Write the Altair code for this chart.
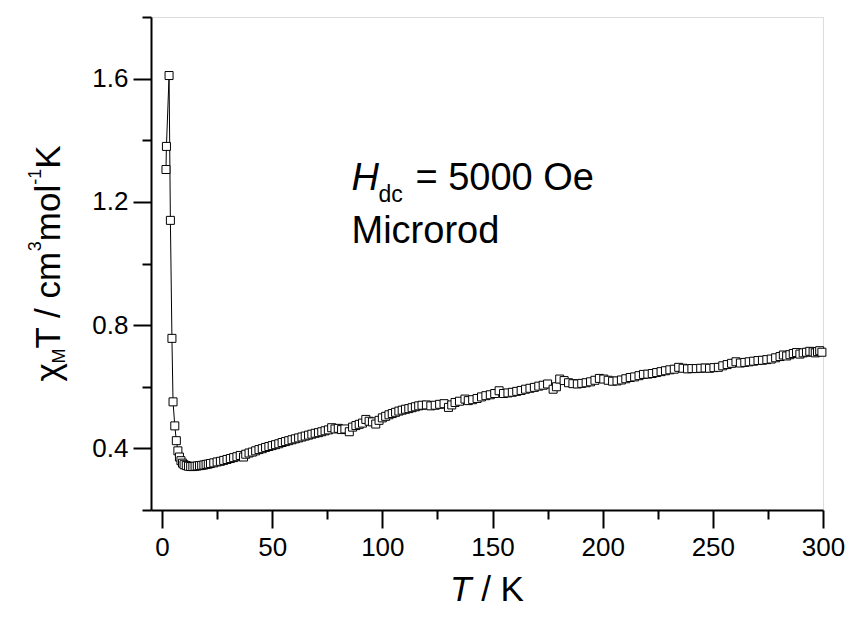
import altair as alt
import pandas as pd

# ---- data ----
T_K = [1.8, 2.0, 3.2, 3.8, 4.5, 5.0, 5.8, 6.5, 7.2, 7.9, 8.6, 9.3, 10.0, 11.0, 12.0, 13.0, 14.0, 15.0,
       16.0, 17.0, 18.0, 19.0, 20.0, 21.0, 22.0, 23.5, 25.0, 26.5, 28.0, 29.5, 31.0, 32.5, 34.0, 35.5,
       37.0, 38.0, 39.5, 41.0, 42.5, 44.0, 45.5, 47.0, 48.5, 50.0, 51.5, 53.0, 54.5, 56.0, 57.5, 59.0,
       60.5, 62.0, 63.5, 65.0, 66.5, 68.0, 69.5, 71.0, 72.5, 74.0, 75.5, 77.0, 78.5, 80.0, 81.5, 83.0,
       85.0, 86.5, 88.0, 89.5, 91.0, 92.5, 94.0, 95.5, 97.0, 98.5, 100.0, 101.5, 103.0, 104.5, 106.0,
       107.5, 109.0, 110.5, 112.0, 113.5, 115.0, 116.5, 118.0, 120.0, 122.0, 124.0, 126.0, 128.0, 130.0,
       131.5, 133.0, 135.0, 137.5, 139.0, 141.0, 143.0, 145.0, 147.0, 149.0, 151.0, 153.0, 155.0, 157.0,
       159.0, 161.0, 163.0, 165.0, 167.0, 169.0, 171.0, 173.0, 175.0, 177.5, 179.0, 180.5, 182.5, 184.5,
       186.5, 188.5, 190.5, 192.5, 194.5, 196.5, 198.5, 200.5, 202.5, 204.5, 206.5, 208.5, 210.5, 212.5,
       214.5, 216.5, 218.5, 220.5, 222.5, 224.5, 226.5, 228.5, 230.5, 232.5, 234.5, 236.5, 238.5, 240.5,
       242.5, 244.5, 246.5, 248.5, 250.5, 252.5, 254.5, 256.5, 258.5, 260.5, 262.5, 264.5, 266.5, 268.5,
       270.5, 272.5, 274.5, 276.5, 278.5, 280.5, 282.0, 283.5, 285.0, 286.5, 288.0, 289.5, 291.0, 292.5,
       294.0, 295.5, 296.5, 297.5, 298.5, 299.5]
CHI_T = [1.305, 1.38, 1.61, 1.14, 0.757, 0.551, 0.473, 0.425, 0.392, 0.372, 0.360, 0.352, 0.347, 0.344,
         0.342, 0.341, 0.341, 0.342, 0.343, 0.344, 0.345, 0.346, 0.348, 0.349, 0.351, 0.353, 0.356, 0.358,
         0.361, 0.364, 0.367, 0.370, 0.373, 0.377, 0.372, 0.381, 0.385, 0.388, 0.392, 0.396, 0.399, 0.403,
         0.406, 0.409, 0.412, 0.415, 0.419, 0.422, 0.425, 0.428, 0.431, 0.434, 0.437, 0.440, 0.443, 0.446,
         0.449, 0.451, 0.454, 0.457, 0.460, 0.467, 0.463, 0.465, 0.461, 0.463, 0.454, 0.469, 0.474, 0.478,
         0.482, 0.494, 0.488, 0.486, 0.479, 0.491, 0.499, 0.504, 0.509, 0.513, 0.517, 0.521, 0.524, 0.527,
         0.529, 0.532, 0.535, 0.538, 0.540, 0.541, 0.538, 0.540, 0.543, 0.545, 0.533, 0.541, 0.549, 0.553,
         0.560, 0.555, 0.558, 0.562, 0.567, 0.571, 0.574, 0.578, 0.587, 0.578, 0.580, 0.582, 0.585, 0.588,
         0.592, 0.595, 0.598, 0.602, 0.605, 0.609, 0.592, 0.600, 0.625, 0.620, 0.613, 0.610, 0.609, 0.611,
         0.613, 0.616, 0.621, 0.627, 0.625, 0.621, 0.618, 0.619, 0.622, 0.626, 0.630, 0.632, 0.636, 0.640,
         0.641, 0.643, 0.646, 0.649, 0.652, 0.655, 0.657, 0.663, 0.660, 0.658, 0.659, 0.659, 0.660, 0.661,
         0.660, 0.662, 0.663, 0.668, 0.672, 0.676, 0.681, 0.677, 0.679, 0.681, 0.683, 0.685, 0.686, 0.688,
         0.690, 0.694, 0.698, 0.703, 0.700, 0.704, 0.708, 0.711, 0.706, 0.710, 0.712, 0.715, 0.713, 0.710,
         0.714, 0.717, 0.712]

X_DOMAIN = [-5, 300]
Y_DOMAIN = [0.2, 1.8]
X_TICKS = [0, 25, 50, 75, 100, 125, 150, 175, 200, 225, 250, 275, 300]   # labelled every 50
Y_TICKS = [0.2, 0.4, 0.6, 0.8, 1.0, 1.2, 1.4, 1.6, 1.8]                 # labelled every 0.4

# annotation pieces (data coordinates)
ANN_TEXT = ["H", "dc", "= 5000 Oe", "Microrod"]
ANN_T = [86.0, 98.2, 115.0, 86.0]
ANN_Y = [1.24, 1.198, 1.24, 1.068]
ANN_SIZE = [38, 23, 38, 38]
ANN_STYLE = ["italic", "normal", "normal", "normal"]

FONT = "Liberation Sans"
W, H = 672, 493

df = pd.DataFrame({"T": T_K, "chiT": CHI_T, "i": list(range(len(T_K)))})

xs = alt.Scale(domain=X_DOMAIN, nice=False, zero=False)
ys = alt.Scale(domain=Y_DOMAIN, nice=False, zero=False)

common = dict(grid=False, tickColor="black", tickWidth=2, domainColor="black", domainWidth=2,
              labelColor="black", labelFont=FONT, labelFontSize=26, title=None, labelFlush=False,
              labelOverlap=False)

x_axis = alt.Axis(
    values=X_TICKS, orient="bottom", labelPadding=6,
    tickSize={"condition": {"test": "datum.value % 50 !== 0", "value": 9}, "value": 18},
    labelExpr="datum.value % 50 === 0 ? format(datum.value, 'd') : ''",
    **common,
)
y_axis = alt.Axis(
    values=Y_TICKS, orient="left", labelPadding=5,
    tickSize={"condition": {"test": "round(datum.value * 10) % 4 !== 0", "value": 9}, "value": 18},
    labelExpr="round(datum.value * 10) % 4 === 0 ? format(datum.value, '.1f') : ''",
    **common,
)

base = alt.Chart(df)
X = alt.X("T:Q", scale=xs, axis=x_axis)
Y = alt.Y("chiT:Q", scale=ys, axis=y_axis)

line = base.mark_line(color="black", strokeWidth=1).encode(x=X, y=Y, order="i:Q")
squares = base.mark_point(shape="square", size=64, fill="white", stroke="black",
                          strokeWidth=1, opacity=1, filled=False).encode(x=X, y=Y)

ann_df = pd.DataFrame({"text": ANN_TEXT, "T": ANN_T, "y": ANN_Y})
ann_layers = []
for k in range(len(ANN_TEXT)):
    ann_layers.append(
        alt.Chart(ann_df.iloc[[k]]).mark_text(
            align="left", baseline="alphabetic", font=FONT, fontSize=ANN_SIZE[k],
            fontStyle=ANN_STYLE[k], color="black",
        ).encode(x=alt.X("T:Q", scale=xs), y=alt.Y("y:Q", scale=ys), text="text:N")
    )

# ---- rotated y title: chi_M T / cm^3 mol^-1 K ----
F, S = 35, 18
ADV = {"χ": 0.52, "M": 0.833, "T": 0.611, " ": 0.278, "/": 0.278, "c": 0.5, "m": 0.833,
       "3": 0.556, "o": 0.556, "l": 0.222, "-": 0.333, "1": 0.556, "K": 0.667}
ysegs = [("χ", F, 0), ("M", S, 5), ("T / cm", F, 0), ("3", S, -19), ("mol", F, 0), ("-1", S, -19), ("K", F, 0)]
widths = [sum(ADV[c] for c in t) * s for t, s, _ in ysegs]
total = sum(widths)
cur = H / 2 + total / 2
base_x = -91
title_layers = []
for (t, s, sh), w in zip(ysegs, widths):
    title_layers.append(
        alt.Chart(pd.DataFrame({"t": [t]})).mark_text(
            align="left", baseline="alphabetic", angle=270, font=FONT, fontSize=s, color="black"
        ).encode(text="t:N", x=alt.value(base_x + sh), y=alt.value(cur))
    )
    cur -= w

# ---- x title: T / K ----
xsegs = [("T", "italic"), ("/ K", "normal")]
xw = [(0.611 + 0.278) * F, (0.278 * 2 + 0.667) * F]
xcur = W / 2 - sum(xw) / 2
for (t, st), w in zip(xsegs, xw):
    title_layers.append(
        alt.Chart(pd.DataFrame({"t": [t]})).mark_text(
            align="left", baseline="alphabetic", font=FONT, fontSize=F, fontStyle=st, color="black"
        ).encode(text="t:N", x=alt.value(xcur), y=alt.value(H + 91))
    )
    xcur += w

chart = alt.layer(line, squares, *ann_layers, *title_layers).properties(
    width=W, height=H,
    autosize=alt.AutoSizeParams(type="none"),
    padding={"left": 143, "top": 9, "right": 23, "bottom": 99},
).configure_view(stroke=None).configure(background="white")

chart.save("out.html", embed_options={"renderer": "svg", "actions": False})
